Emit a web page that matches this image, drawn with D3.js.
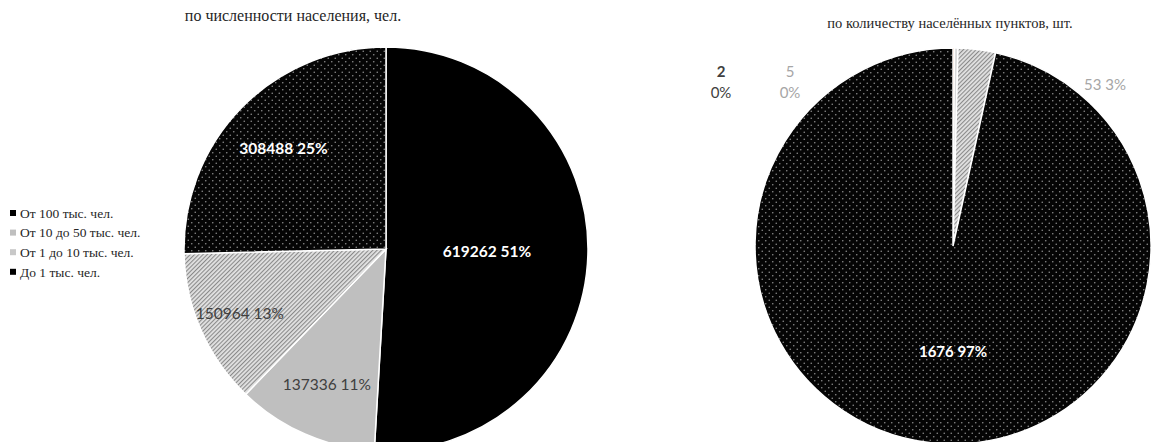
<!DOCTYPE html>
<html>
<head>
<meta charset="utf-8">
<script src="https://cdn.jsdelivr.net/npm/d3@7"></script>
<style>
  body { margin: 0; background: #fff; }
  svg { display: block; }
</style>
</head>
<body>
<svg id="chart" width="1159" height="442"></svg>
<script>
// categories and values
var categories = ["От 100 тыс. чел.", "От 10 до 50 тыс. чел.", "От 1 до 10 тыс. чел.", "До 1 тыс. чел."]
var population = [619262, 137336, 150964, 308488]
var popPercent = ["51%", "11%", "13%", "25%"]
var settlements = [2, 5, 53, 1676]
var setPercent = ["0%", "0%", "3%", "97%"]
var titles = ["по численности населения, чел.", "по количеству населённых пунктов, шт."]

var svg = d3.select("#chart")
var defs = svg.append("defs")

// hatch fill
var hatch = defs.append("pattern")
    .attr("id", "hatch")
    .attr("patternUnits", "userSpaceOnUse")
    .attr("width", 3).attr("height", 3)
    .attr("patternTransform", "rotate(45)")
hatch.append("rect").attr("width", 3).attr("height", 3).attr("fill", "#e2e2e2")
hatch.append("rect").attr("width", 1.1).attr("height", 3).attr("fill", "#8a8a8a")

// dotted black fill
var dots = defs.append("pattern")
    .attr("id", "dots")
    .attr("patternUnits", "userSpaceOnUse")
    .attr("width", 7).attr("height", 7)
dots.append("rect").attr("width", 7).attr("height", 7).attr("fill", "#050505")
dots.append("circle").attr("cx", 1.75).attr("cy", 1.75).attr("r", 0.8).attr("fill", "#8c8c8c")
dots.append("circle").attr("cx", 5.25).attr("cy", 5.25).attr("r", 0.8).attr("fill", "#8c8c8c")

var fills = ["#000000", "#bfbfbf", "url(#hatch)", "url(#dots)"]
var fillsRight = ["#f0a070", "#d9d9d9", "url(#hatch)", "url(#dots)"]
var legendMarks = ["#000", "#bfbfbf", "#c8c8c8", "#000"]

var pie = d3.pie().sort(null).value(d => d)

function drawPie(values, cx, cy, r, colors) {
  var g = svg.append("g").attr("transform", "translate(" + cx + "," + cy + ")")
  var arc = d3.arc().innerRadius(0).outerRadius(r)
  var arcs = pie(values)
  g.selectAll("path")
      .data(arcs)
      .enter()
      .append("path")
        .attr("d", arc)
        .attr("fill", (d, i) => colors[i])
        .attr("stroke", "#fff")
        .attr("stroke-width", (d, i) => i == 0 && values[0] < 10 ? 0 : 1.5)
  return {g: g, arcs: arcs}
}

var labelFont = "Lato, 'Liberation Sans', sans-serif"

// left pie
var left = drawPie(population, 386, 249, 202, fills)
var leftRad = [0.5, 0.73, 0.79, 0.71]
var leftColor = ["#fff", "#404040", "#404040", "#fff"]
left.g.selectAll("text")
    .data(left.arcs)
    .enter()
    .append("text")
      .attr("transform", function(d, i) {
        var a = (d.startAngle + d.endAngle) / 2
        var rr = 202 * leftRad[i]
        return "translate(" + (Math.sin(a) * rr) + "," + (-Math.cos(a) * rr) + ")"
      })
      .attr("text-anchor", "middle")
      .attr("dy", "0.35em")
      .attr("font-family", labelFont)
      .attr("font-size", 15.5)
      .attr("font-weight", (d, i) => leftColor[i] == "#fff" ? "bold" : "normal")
      .attr("fill", (d, i) => leftColor[i])
      .text((d, i) => population[i] + " " + popPercent[i])

// right pie
var right = drawPie(settlements, 953, 246, 198, fillsRight)
var rightPos = [[-232, -174], [-163, -174], [152, -161], [0, 106]]
var rightColor = ["#404040", "#a6a6a6", "#a6a6a6", "#fff"]
right.g.selectAll("text")
    .data(right.arcs)
    .enter()
    .append("text")
      .attr("x", (d, i) => rightPos[i][0])
      .attr("y", (d, i) => rightPos[i][1])
      .attr("text-anchor", "middle")
      .attr("font-family", labelFont)
      .attr("font-size", 15)
      .attr("fill", (d, i) => rightColor[i])
      .each(function(d, i) {
        var t = d3.select(this)
        if (i < 2) {
          t.append("tspan").attr("x", rightPos[i][0]).attr("dy", "0.35em")
            .attr("font-weight", i == 0 ? "bold" : "normal").text(settlements[i])
          t.append("tspan").attr("x", rightPos[i][0]).attr("dy", "1.35em").text(setPercent[i])
        } else {
          t.append("tspan").attr("dy", "0.35em")
            .attr("font-weight", i == 3 ? "bold" : "normal")
            .text(settlements[i] + " " + setPercent[i])
        }
      })

// titles
svg.append("text")
    .attr("x", 293).attr("y", 21)
    .attr("text-anchor", "middle")
    .attr("font-family", "'Liberation Serif', 'Times New Roman', serif")
    .attr("font-size", 16)
    .attr("fill", "#262626")
    .text(titles[0])
svg.append("text")
    .attr("x", 950).attr("y", 28)
    .attr("text-anchor", "middle")
    .attr("font-family", "'Liberation Serif', 'Times New Roman', serif")
    .attr("font-size", 14.5)
    .attr("fill", "#262626")
    .text(titles[1])

// legend
var legend = svg.append("g").attr("transform", "translate(10,213)")
var items = legend.selectAll("g")
    .data(categories)
    .enter()
    .append("g")
      .attr("transform", (d, i) => "translate(0," + (i * 19.6) + ")")
items.append("rect")
    .attr("x", 0).attr("y", -3)
    .attr("width", 6).attr("height", 6)
    .attr("fill", (d, i) => legendMarks[i])
items.append("text")
    .attr("x", 10).attr("dy", "0.35em")
    .attr("font-family", "'Liberation Serif', 'Times New Roman', serif")
    .attr("font-size", 13.5)
    .attr("fill", "#262626")
    .text(d => d)
</script>
</body>
</html>
